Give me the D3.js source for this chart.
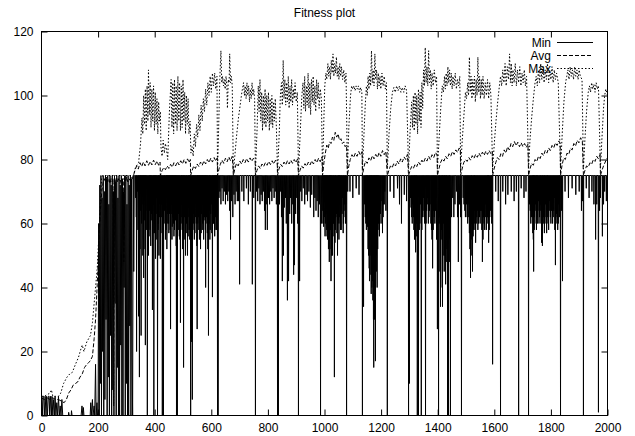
<!DOCTYPE html>
<html>
<head>
<meta charset="utf-8">
<script src="https://cdn.jsdelivr.net/npm/d3@7"></script>
<style>
  html, body { margin: 0; padding: 0; background: #fff; }
  #chart { width: 635px; height: 436px; }
  text { font-family: "Liberation Sans", Arial, Helvetica, sans-serif; }
</style>
</head>
<body>
<div id="chart"></div>
<script>
// ---- data ----
const title = 'Fitness plot'
const xTicks = [0, 200, 400, 600, 800, 1000, 1200, 1400, 1600, 1800, 2000]
const yTicks = [0, 20, 40, 60, 80, 100, 120]
const seriesNames = ['Min', 'Avg', 'Max']

// Max fitness per generation: [generation, value]
const maxSeries = [
  [0,6],[10,6],[20,6.5],[30,7],[35,8],[40,6],[50,6],[60,6],[68,7],[78,10],[90,12],[100,13],[109,13.5],[120,16],[130,18],[140,21],[144,22],[150,20],[160,23],[173,25],[180,29],[184,33],[190,39],[197,46],[203,57],[208,66],[212,74],[216,75],[325,75],
  [332,77.5],[343,79],[350,85],[355,93],[358,88],[361,100],[364,91],[367,102],[370,89],[373,103],[376,92],[378,108],[381,94],[384,104],[387,90],[390,102],[393,92],[396,103],[399,89],[402,101],[405,91],[408,99],[411,88],[414,98],[417,92],[420,95],
  [422,84],[426,81],[430,86],[434,82],[438,85],[442,83],[446,80],
  [452,95],[458,105],[461,90],[464,104],[467,88],[470,105],[473,91],[476,103],[479,89],[482,106],[485,92],[488,104],[491,89],[494,103],[497,90],[500,105],[503,92],[506,101],[509,88],[512,100],[515,91],[518,99],[521,88],[525,92],[528,82],
  [532,84],[536,81],[540,88],[544,84],[548,91],[552,87],[556,94],[560,89],[564,97],[568,92],[572,99],[576,95],[580,102],[584,97],[588,104],[592,100],[596,106],[600,101],[604,107],[608,103],[612,107],[616,102],[620,106],[622,76],
  [626,90],[630,105],[634,114],[637,104],[640,106],[643,103],[646,105],[649,102],[652,106],[655,103],[657,96],[660,105],[663,104],[665,113],[668,104],[671,106],[674,103],[678,76],
  [684,82],[690,88],[696,93],[702,97],[708,101],[714,104],[717,100],[720,103],[723,99],[726,104],[729,100],[732,103],[735,98],[738,102],[741,99],[744,104],[747,100],[750,102],[753,99],[756,76],
  [762,90],[766,103],[769,95],[772,105],[775,92],[778,101],[781,89],[784,100],[787,91],[790,102],[793,90],[796,100],[799,92],[802,101],[805,89],[808,99],[811,91],[814,100],[817,90],[820,98],[823,92],[826,99],[830,90],[834,76],
  [840,88],[844,100],[848,104],[851,97],[854,111],[857,99],[860,105],[863,97],[866,104],[869,98],[872,106],[875,96],[878,103],[881,98],[884,105],[887,97],[890,102],[893,99],[896,104],[900,98],[904,101],[908,76],
  [914,88],[920,100],[924,104],[927,96],[930,106],[933,95],[936,103],[939,97],[942,107],[945,96],[948,104],[951,94],[954,105],[957,98],[960,106],[963,97],[966,103],[969,95],[972,105],[975,99],[978,104],[981,96],[985,102],[989,99],[993,76],
  [997,90],[1001,103],[1005,107],[1008,105],[1012,110],[1015,106],[1018,109],[1021,105],[1024,111],[1027,107],[1030,113],[1033,106],[1036,110],[1039,107],[1042,112],[1045,106],[1048,109],[1051,105],[1054,110],[1057,106],[1060,109],[1064,105],[1068,108],[1072,104],[1076,107],[1081,77],
  [1086,90],[1092,100],[1096,103],[1100,102],[1104,103],[1108,101.5],[1112,103],[1116,102],[1120,103],[1124,101],[1128,102.5],[1132,101],[1134,77],
  [1138,85],[1144,97],[1148,103],[1151,100],[1154,106],[1157,102],[1160,107],[1163,103],[1166,114],[1169,104],[1172,108],[1175,103],[1178,113],[1181,105],[1184,108],[1187,102],[1190,107],[1193,103],[1196,106],[1199,102],[1203,107],[1207,103],[1211,106],[1215,102],[1219,104],[1222,77],
  [1228,88],[1234,96],[1240,101],[1245,102.5],[1250,101],[1255,103],[1260,101.5],[1265,103],[1270,101],[1275,102.5],[1280,101],[1285,103],[1290,101.5],[1297,77],
  [1302,88],[1308,98],[1311,90],[1314,100],[1317,89],[1320,101],[1323,91],[1326,100],[1329,88],[1332,102],[1335,92],[1338,101],[1341,90],[1344,104],[1347,96],[1350,108],[1353,103],[1356,115],[1359,104],[1362,109],[1365,103],[1368,114],[1371,104],[1374,108],[1377,102],[1380,107],[1384,103],[1388,108],[1392,104],[1396,106],[1399,77],
  [1404,85],[1410,95],[1416,103],[1420,101],[1424,106],[1427,102],[1430,107],[1433,103],[1436,109],[1439,104],[1442,108],[1445,103],[1448,107],[1451,102],[1454,106],[1458,103],[1462,107],[1466,102],[1470,105],[1474,103],[1478,106],[1481,77],
  [1486,85],[1492,93],[1498,101],[1502,99],[1506,104],[1509,100],[1512,112],[1515,101],[1518,106],[1521,99],[1524,105],[1527,100],[1530,106],[1533,98],[1536,105],[1539,100],[1542,112],[1545,101],[1548,106],[1551,99],[1554,105],[1557,100],[1560,106],[1564,99],[1568,104],[1572,100],[1576,105],[1580,99],[1584,104],[1588,100],[1594,77],
  [1600,85],[1606,92],[1612,98],[1618,103],[1622,106],[1626,103],[1630,108],[1634,104],[1638,110],[1642,103],[1646,109],[1650,105],[1654,113],[1657,104],[1660,110],[1663,103],[1666,108],[1670,104],[1674,110],[1678,103],[1682,108],[1686,104],[1690,109],[1694,103],[1698,107],[1702,104],[1706,108],[1710,103],[1714,106],[1721,77],
  [1726,86],[1732,93],[1738,99],[1744,104],[1748,106],[1752,103],[1756,108],[1760,104],[1764,110],[1768,105],[1772,109],[1776,104],[1780,108],[1784,105],[1788,110],[1792,104],[1796,108],[1800,105],[1804,109],[1808,104],[1812,108],[1816,105],[1820,107],[1826,104],[1834,77],
  [1840,88],[1846,98],[1852,104],[1856,106],[1860,108],[1864,105],[1868,109],[1872,106],[1876,108],[1880,105],[1884,109],[1888,106],[1892,108],[1896,105],[1900,108],[1904,106],[1910,105],[1915,77],
  [1920,86],[1926,95],[1932,101],[1936,103],[1940,101],[1944,104],[1948,102],[1952,103.5],[1956,101],[1960,104],[1964,102],[1968,103],[1975,77],
  [1980,86],[1986,96],[1990,100],[1994,102],[2000,100]
]

// Average fitness per generation: [generation, value]
const avgSeries = [
  [0,5.5],[10,5],[20,5.5],[30,5],[40,5.5],[50,5],[60,5],[70,4.5],[80,4],[88,5],[96,7],[104,8],[112,9.5],[120,10],[128,10.5],[136,12],[144,13],[152,15],[160,16],[166,16.5],[172,17],[180,18.5],[186,24],[191,30],[197,41],[203,54],[208,64],[213,70],[218,73],
  [222,74],[226,73],[230,74.5],[234,73],[238,74],[242,72.5],[246,74],[250,73],[253,74],[255,3],[257,74],[261,73],[265,74.5],[269,73],[273,74],[277,72.5],[281,74],[285,73.5],[289,74],[291,48],[293,74],[297,73],[301,74.5],[305,73],[309,74],[313,73.5],[317,74.5],[321,74],[325,75],
  [330,76.5],[336,78],[342,77],[348,79],[354,77.8],[360,79.2],[366,78],[372,79.6],[378,78.2],[384,79.4],[390,78.3],[396,79.8],[402,78.4],[408,79.5],[414,78.2],[419,79.2],[420,75],
  [426,76.5],[432,77.5],[438,76.8],[444,78],[450,77.2],[456,78.5],[462,77.6],[468,79],[474,78],[480,79.3],[486,78.3],[492,79.6],[498,78.6],[504,80],[510,78.8],[516,80.2],[522,79],[526,80],[527,75],
  [532,76.5],[538,78],[544,77.2],[550,78.6],[556,77.8],[562,79.2],[568,78.2],[574,79.6],[580,78.6],[586,80],[592,79],[598,80.4],[604,79.2],[610,80.6],[616,79.5],[621,80.5],[622,75],
  [627,77],[632,78.5],[638,79.8],[644,78.8],[650,80.4],[656,79.3],[662,80.8],[668,79.6],[674,81],[678,75],
  [683,77],[689,78.8],[695,78],[701,79.5],[707,78.6],[713,80],[719,79],[725,80.3],[731,79.2],[737,80.5],[743,79.4],[749,80.4],[755,79.6],[756,75],
  [761,76.5],[767,78],[773,77.2],[779,78.6],[785,77.8],[791,79],[797,78.2],[803,79.4],[809,78.4],[815,79.6],[821,78.6],[827,79.8],[833,79],[834,75],
  [839,77],[845,78.5],[851,77.8],[857,79.2],[863,78.3],[869,79.6],[875,78.6],[881,79.8],[887,78.8],[893,80],[899,79],[905,80.2],[908,75],
  [913,76.5],[919,78],[925,77.3],[931,78.7],[937,77.9],[943,79.2],[949,78.3],[955,79.6],[961,78.6],[967,80],[973,79],[979,80.4],[985,79.3],[991,80.8],[993,75],
  [998,79],[1003,82],[1008,84.5],[1013,83.5],[1018,85.5],[1023,85],[1028,87],[1033,86],[1038,88.5],[1043,87],[1048,88],[1053,86],[1058,86.5],[1063,85],[1068,85.5],[1073,84],[1078,84.5],[1081,75],
  [1086,78],[1091,80],[1097,81.5],[1103,80.6],[1109,82],[1115,81],[1121,82.5],[1127,81.3],[1133,82.5],[1134,75],
  [1139,77.5],[1145,79.5],[1151,78.8],[1157,80.5],[1163,79.6],[1169,81.2],[1175,80.2],[1181,81.6],[1187,80.6],[1193,82.2],[1199,81],[1205,82.8],[1211,81.5],[1217,82.5],[1222,75],
  [1227,76.5],[1233,78],[1239,77.4],[1245,78.8],[1251,78],[1257,79.5],[1263,78.6],[1269,80.2],[1275,79.2],[1281,80.8],[1287,80],[1293,81.6],[1297,75],
  [1302,76.5],[1308,77.8],[1314,77.2],[1320,78.5],[1326,77.8],[1332,79.2],[1338,78.4],[1344,79.8],[1350,79],[1356,80.4],[1362,79.5],[1368,81],[1374,80],[1380,81.5],[1386,80.6],[1392,82.2],[1398,81.4],[1399,75],
  [1404,77],[1410,79],[1416,80.2],[1422,79.5],[1428,81],[1434,80.2],[1440,81.8],[1446,81],[1452,82.5],[1458,81.6],[1464,83],[1470,82.2],[1476,83.6],[1480,83],[1481,75],
  [1486,77],[1492,79],[1498,80],[1504,79.4],[1510,80.6],[1516,79.8],[1522,81.2],[1528,80.3],[1534,81.6],[1540,80.7],[1546,82],[1552,81],[1558,82.3],[1564,81.3],[1570,82.6],[1576,81.6],[1582,82.8],[1588,81.8],[1593,82.5],[1594,75],
  [1599,77],[1605,79],[1611,80.6],[1617,80],[1623,81.8],[1629,81],[1635,83],[1641,82],[1647,84],[1653,83],[1659,85],[1665,84],[1671,85.6],[1677,84.3],[1683,85.4],[1689,84],[1695,85.2],[1701,84],[1707,85],[1713,83.8],[1719,84.8],[1721,75],
  [1726,77],[1732,78.8],[1738,78.2],[1744,80],[1750,79.3],[1756,81],[1762,80.3],[1768,82],[1774,81.2],[1780,82.8],[1786,82],[1792,83.6],[1798,82.8],[1804,84.4],[1810,83.6],[1816,85.2],[1822,84.4],[1828,85.8],[1833,85],[1834,75],
  [1839,78],[1845,80.5],[1851,80],[1857,82],[1863,81.5],[1869,83.5],[1875,83],[1881,85],[1887,84.2],[1893,86],[1899,85.2],[1905,86.8],[1911,85.8],[1915,75],
  [1920,76.5],[1926,78],[1932,77.6],[1938,79],[1944,78.5],[1950,80],[1956,79.4],[1962,81],[1968,80.2],[1974,81.6],[1975,75],
  [1980,76.5],[1986,78],[1992,79.2],[1998,80.4],[2000,80]
]

// Min fitness, early generations (0-330): [generation, value]
const minEarly = [
  [0,6],[3,0],[5,6],[8,6],[10,0],[13,6],[16,0],[18,6],[21,0],[24,6],[27,6],[29,0],[32,6],[35,0],[37,6],[40,0],[43,5],[46,0],[48,6],[51,0],[54,4],[57,0],[60,6],[63,0],[66,3],[69,0],[72,5],[75,0],
  [95,0],[96,1],[98,0],[105,0],[106,1.5],[108,0],[140,0],[143,3],[146,0],[148,2.5],[150,0],[172,0],[174,4],[176,0],[180,5],[182,0],[186,3],[188,0],[191,16],[193,0],[196,4],[198,0],
  [200,0],[202,60],[204,0],[206,72],[208,10],[210,75],[212,0],[214,68],[216,20],[218,75],[220,0],[222,70],[224,5],[226,75],[228,30],[230,74],[232,0],[234,75],[236,12],[238,66],[240,0],[242,75],[244,25],[246,72],[248,0],[250,75],[252,8],[254,70],[256,0],[258,75],[260,35],[262,73],[264,0],[266,75],[268,15],[270,68],[272,0],[274,75],[276,0],[278,72],[280,22],[282,75],[284,0],[286,74],[288,0],[290,70],[292,40],[294,75],[296,0],[298,75],[300,10],[302,66],[304,0],[306,75],[308,0],[310,72],[312,28],[314,75],[316,0],[318,74],[320,18],[322,0],[324,75],[326,45],[328,75],[330,75]
]

// Min fitness after gen 330 sits at 75; these are the downward spikes: [generation, value]
const minDips = [
  [333,68],[336,20],[339,70],[343,31],[346,12],[349,70],[352,25],[355,66],[358,50],[361,43],[364,67],[367,22],[370,71],[374,0],[378,50],[381,64],[384,58],[387,69],[390,61],[392,33],[395,66],[397,0],[400,57],[403,49],[406,68],[410,0],[413,60],[416,66],[420,49],[423,62],[427,0],[431,0],[434,64],[438,55],[441,68],[444,60],[447,66],[450,57],[453,63],[456,27],[459,66],[462,59],[465,70],[468,56],[471,64],[474,61],[477,0],[480,0],[484,63],[487,56],[491,29],[494,66],[497,58],[502,15],[505,62],[509,50],[512,60],[516,50],[519,65],[522,58],[525,67],[527,0],[529,24],[531,23],[533,5],[536,60],[540,55],[543,66],[547,60],[550,27],[553,64],[556,58],[559,67],[562,52],[565,63],[568,58],[571,68],[574,61],[577,66],[580,40],[583,62],[586,57],[590,25],[593,64],[596,58],[600,66],[604,37],[607,60],[610,68],[613,58],[616,65],[619,62],[622,0],[624,0],
  [627,68],[630,70],[634,66],[638,71],[642,67],[646,70],[650,66],[654,69],[658,67],[662,70],[665,64],[668,55],[672,67],[676,62],[680,69],[684,66],[688,70],[692,67],[696,67],[700,41],
  [708,70],[715,67],[724,71],[731,66],[738,70],[745,41],[750,68],[756,0],
  [760,70],[764,67],[768,71],[772,66],[776,69],[780,67],[784,70],[788,64],[791,58],[794,66],[798,58],[802,68],[806,66],[810,70],[814,67],[818,71],[822,68],[826,70],[830,66],[834,0],[837,0],
  [841,66],[845,70],[848,62],[851,42],[855,50],[858,65],[862,68],[865,60],[869,36],[873,42],[877,63],[880,68],[884,60],[888,66],[891,44],[894,47],[898,63],[902,68],[905,60],[908,0],[912,42],
  [916,70],[920,67],[925,71],[930,66],[935,69],[940,67],[945,70],[950,65],[955,69],[962,62],[966,68],[970,64],[974,67],[978,62],[982,66],[986,0],[990,60],
  [994,64],[997,59],[1000,67],[1003,60],[1006,65],[1009,56],[1012,62],[1014,52],[1017,48],[1020,58],[1023,42],[1026,55],[1028,50],[1031,60],[1035,12],[1038,58],[1042,63],[1046,50],[1049,61],[1052,66],[1055,60],[1057,58],[1060,64],[1064,68],[1067,60],[1071,66],[1074,60],[1078,0],[1082,70],
  [1090,70],[1100,68],[1112,71],[1122,69],[1134,0],[1138,34],
  [1142,66],[1146,60],[1149,68],[1152,59],[1156,50],[1159,42],[1162,55],[1165,38],[1168,48],[1171,36],[1174,15],[1177,30],[1180,17],[1183,45],[1186,40],[1189,58],[1192,64],[1196,60],[1200,67],[1205,57],[1209,66],[1213,70],[1217,64],[1222,0],
  [1232,70],[1245,68],[1258,71],[1265,66],[1272,60],[1282,69],[1290,67],[1297,0],[1300,10],
  [1304,68],[1308,62],[1312,66],[1316,58],[1319,64],[1322,51],[1325,60],[1328,0],[1332,0],[1335,58],[1339,66],[1342,0],[1346,62],[1350,68],[1354,60],[1357,0],[1361,64],[1365,68],[1369,62],[1373,66],[1378,58],[1382,46],[1386,64],[1390,60],[1394,68],[1399,27],
  [1403,0],[1406,62],[1410,34],[1414,58],[1417,34],[1421,60],[1424,50],[1428,41],[1431,55],[1435,0],[1438,0],[1441,48],[1445,0],[1449,62],[1453,68],[1457,62],[1461,66],[1466,70],[1470,62],[1473,48],[1477,66],[1481,62],[1484,0],
  [1490,68],[1496,64],[1500,70],[1504,62],[1508,66],[1512,57],[1516,43],[1519,60],[1523,45],[1527,58],[1530,64],[1534,54],[1538,62],[1542,58],[1546,66],[1550,60],[1554,64],[1558,48],[1562,62],[1566,58],[1570,66],[1574,60],[1577,64],[1580,54],[1584,62],[1588,68],[1591,60],[1594,16],
  [1605,70],[1614,67],[1622,0],[1630,70],[1640,66],[1648,69],[1660,70],[1670,67],[1678,70],[1686,0],[1695,71],[1705,68],[1712,70],[1721,0],
  [1725,66],[1729,60],[1733,68],[1736,57],[1739,45],[1742,62],[1746,66],[1749,58],[1752,60],[1756,67],[1760,62],[1763,66],[1767,54],[1770,53],[1774,62],[1777,57],[1781,66],[1785,57],[1788,64],[1792,58],[1796,67],[1800,60],[1804,66],[1808,62],[1812,68],[1816,47],[1820,63],[1824,58],[1828,66],[1831,62],[1834,0],[1838,64],[1841,42],
  [1850,70],[1862,68],[1875,71],[1888,69],[1900,70],[1908,64],[1912,67],[1915,0],
  [1925,71],[1935,68],[1945,70],[1952,66],[1958,55],[1962,66],[1968,1],[1972,64],[1975,68],
  [1982,56],[1986,66],[1990,70],[1996,67]
]

// further spikes inside the dense (dark) stretches of the Min curve
const minDipsDense = [
  [335,62],[341,58],[344,66],[348,52],[351,64],[354,60],[357,69],[360,55],[363,61],[366,52],[369,64],[372,58],[376,62],[380,56],[383,68],[386,53],[389,63],[394,57],[399,64],[402,60],[405,55],[408,63],[412,58],[415,50],[418,62],[422,57],[425,66],[429,55],[433,60],[436,67],[440,58],[443,52],[446,63],[449,60],[452,66],[455,58],[458,63],[461,55],[464,62],[467,60],[470,58],[473,66],[476,53],[479,64],[483,58],[486,66],[489,55],[493,60],[496,62],[499,52],[501,60],[504,55],[507,63],[511,57],[514,64],[518,56],[521,62],[524,55],[535,58],[538,63],[542,57],[545,62],[549,53],[552,60],[555,62],[558,55],[561,64],[564,57],[567,66],[570,60],[573,55],[576,62],[579,58],[582,66],[585,60],[588,52],[592,60],[595,55],[598,63],[602,57],[605,64],[609,60],[612,56],[615,62],[618,58],[620,64],
  [995,60],[999,62],[1002,56],[1005,63],[1008,58],[1011,55],[1016,60],[1019,52],[1022,58],[1025,50],[1030,56],[1033,60],[1037,54],[1040,62],[1044,57],[1048,60],[1051,55],[1054,62],[1059,58],[1062,63],[1066,57],[1069,64],[1073,62],[1076,66],
  [1144,62],[1148,58],[1151,64],[1154,52],[1158,46],[1161,50],[1164,44],[1167,40],[1170,42],[1173,30],[1176,38],[1179,35],[1182,50],[1185,55],[1188,52],[1191,60],[1194,56],[1198,63],[1203,60],[1207,62],[1211,66],
  [1306,65],[1310,60],[1314,62],[1318,55],[1324,56],[1330,50],[1337,60],[1344,58],[1348,64],[1352,62],[1359,60],[1363,66],[1367,60],[1371,64],[1376,60],[1380,55],[1384,58],[1388,62],[1392,64],[1396,55],[1405,60],[1408,45],[1412,55],[1416,40],[1419,50],[1423,45],[1426,55],[1430,48],[1433,52],[1440,55],[1443,60],
  [1493,66],[1498,62],[1502,66],[1506,60],[1510,62],[1514,52],[1518,55],[1521,50],[1525,56],[1529,60],[1532,58],[1536,60],[1540,64],[1544,60],[1548,62],[1552,64],[1556,58],[1560,55],[1564,60],[1568,62],[1572,58],[1576,62],[1579,60],[1582,58],[1586,64],[1590,62],
  [1727,64],[1731,62],[1735,62],[1738,55],[1741,58],[1744,64],[1748,60],[1751,62],[1754,64],[1758,60],[1762,64],[1765,60],[1769,57],[1772,60],[1776,60],[1779,62],[1783,60],[1787,62],[1790,60],[1794,64],[1798,62],[1802,64],[1806,60],[1810,64],[1814,58],[1818,60],[1822,62],[1826,60],[1830,64]
]
const minPlateau = 75

// ---- layout ----
const width = 635, height = 436
const plot = { left: 41.5, right: 607.5, top: 31.5, bottom: 415.5 }

const svg = d3.select('#chart').append('svg')
  .attr('width', width)
  .attr('height', height)
  .attr('viewBox', `0 0 ${width} ${height}`)

const x = d3.scaleLinear().domain([0, 2000]).range([plot.left, plot.right])
const y = d3.scaleLinear().domain([0, 120]).range([plot.bottom, plot.top])

// Title
svg.append('text')
  .attr('x', (plot.left + plot.right) / 2)
  .attr('y', 17)
  .attr('text-anchor', 'middle')
  .attr('font-size', '12px')
  .text(title)

// clip for the data
svg.append('clipPath').attr('id', 'clip')
  .append('rect')
  .attr('x', plot.left).attr('y', plot.top)
  .attr('width', plot.right - plot.left).attr('height', plot.bottom - plot.top)

// build the min line: early part as is, then plateau with spikes
const minPoints = minEarly.slice()
minDips.concat(minDipsDense)
  .sort((a, b) => a[0] - b[0])
  .forEach(([g, v]) => {
    minPoints.push([g - 0.8, minPlateau], [g, v], [g + 0.8, minPlateau])
  })
minPoints.push([2000, minPlateau])

const line = d3.line().x(d => x(d[0])).y(d => y(d[1]))

const data = svg.append('g').attr('clip-path', 'url(#clip)')

data.append('path')
  .datum(minPoints)
  .attr('d', line)
  .attr('fill', 'none')
  .attr('stroke', '#000')
  .attr('stroke-width', 1)

data.append('path')
  .datum(avgSeries)
  .attr('d', line)
  .attr('fill', 'none')
  .attr('stroke', '#000')
  .attr('stroke-width', 1)
  .attr('stroke-dasharray', '4,2')

data.append('path')
  .datum(maxSeries)
  .attr('d', line)
  .attr('fill', 'none')
  .attr('stroke', '#000')
  .attr('stroke-width', 1)
  .attr('stroke-dasharray', '1.5,2')

// Axes (gnuplot style: inward ticks on all four sides)
const tick = 6
const styleAxis = g => {
  g.select('.domain').remove()
  g.selectAll('text').attr('font-size', '12px').attr('fill', '#000')
    .attr('font-family', '"Liberation Sans", Arial, Helvetica, sans-serif')
  g.selectAll('line').attr('stroke', '#000')
}

svg.append('g')
  .attr('transform', `translate(0,${plot.bottom})`)
  .call(d3.axisBottom(x).tickValues(xTicks).tickSizeInner(-tick).tickSizeOuter(0).tickPadding(8).tickFormat(d3.format('d')))
  .call(styleAxis)

svg.append('g')
  .attr('transform', `translate(0,${plot.top})`)
  .call(d3.axisTop(x).tickValues(xTicks.slice(1, -1)).tickSizeInner(-tick).tickSizeOuter(0).tickFormat(''))
  .call(styleAxis)

svg.append('g')
  .attr('transform', `translate(${plot.left},0)`)
  .call(d3.axisLeft(y).tickValues(yTicks).tickSizeInner(-tick).tickSizeOuter(0).tickPadding(8).tickFormat(d3.format('d')))
  .call(styleAxis)

svg.append('g')
  .attr('transform', `translate(${plot.right},0)`)
  .call(d3.axisRight(y).tickValues(yTicks.slice(1, -1)).tickSizeInner(-tick).tickSizeOuter(0).tickFormat(''))
  .call(styleAxis)

// border
svg.append('rect')
  .attr('x', plot.left).attr('y', plot.top)
  .attr('width', plot.right - plot.left).attr('height', plot.bottom - plot.top)
  .attr('fill', 'none').attr('stroke', '#000').attr('stroke-width', 1)

// Legend (key, top right)
const dashes = [null, '4,2', '1.5,2']
const key = svg.append('g')
seriesNames.forEach((name, i) => {
  const ky = 42.5 + i * 13
  key.append('text')
    .attr('x', 551)
    .attr('y', ky)
    .attr('dy', '0.35em')
    .attr('text-anchor', 'end')
    .attr('font-size', '12px')
    .text(name)
  key.append('line')
    .attr('x1', 557).attr('x2', 593)
    .attr('y1', ky).attr('y2', ky)
    .attr('stroke', '#000')
    .attr('stroke-width', 1)
    .attr('stroke-dasharray', dashes[i])
})
</script>
</body>
</html>
